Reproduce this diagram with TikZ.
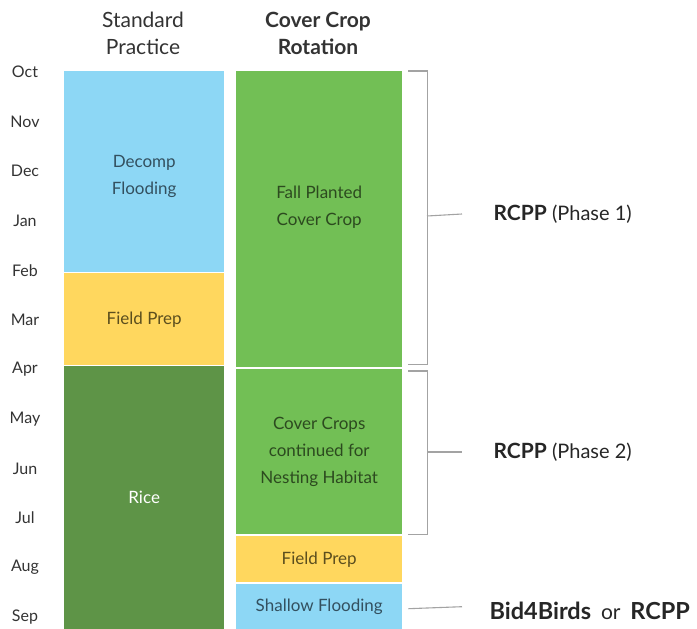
\documentclass[tikz,border=0pt]{standalone}
\usepackage{fontspec}
\setmainfont{Lato}
\usepackage{tikz}
\usetikzlibrary{positioning}
\definecolor{skyblue}{HTML}{8DD7F5}
\definecolor{prepyellow}{HTML}{FFD75E}
\definecolor{ricegreen}{HTML}{5E9447}
\definecolor{covergreen}{HTML}{72BF55}
\definecolor{bracketgray}{HTML}{A3A3A3}
\definecolor{bluetext}{HTML}{33505F}
\definecolor{yellowtext}{HTML}{5B4E1E}
\definecolor{greentext}{HTML}{2C4A1F}
\tikzset{C/.style={anchor=north west, inner sep=0pt, minimum width=#1, font=\fontsize{17}{27}\selectfont, align=center}}
\tikzset{T/.style={font=\fontsize{17}{27}\selectfont, align=center}}
\tikzset{M/.style={font=\fontsize{16}{19}\selectfont, text=black!80}}
\tikzset{H/.style={font=\fontsize{21}{27}\selectfont, text=black!80, align=center}}
\tikzset{K/.style={draw=bracketgray, line width=1.1pt}}
\tikzset{R/.style={anchor=west, font=\fontsize{21}{24}\selectfont, text=black!85}}

\begin{document}
\begin{tikzpicture}[x=1pt, y=-1pt]
        \useasboundingbox (0,0) rectangle (697,629);
        %% Headings
        \node[H] (std) at (143,33) {Standard\\Practice};
        \node[H, font=\fontsize{21}{27}\selectfont\bfseries] (ccr) at (318,33) {Cover Crop\\Rotation};
        %% Months
        \foreach \m [count=\i from 0] in {Oct,Nov,Dec,Jan,Feb,Mar,Apr,May,Jun,Jul,Aug,Sep}
          \node[M] (m\i) at (25,72+49.55*\i) {\m};
        %% Standard practice column
        \node[C=160pt, fill=skyblue, minimum height=201pt] (decomp) at (64,71) {};
        \node[T, text=bluetext] at ([yshift=-5]decomp.center) {Decomp\\Flooding};
        \node[C=160pt, fill=prepyellow, minimum height=92pt, text=yellowtext] (prep1) at (64,273) {Field Prep};
        \node[C=160pt, fill=ricegreen, minimum height=263pt, text=white] (rice) at (64,366) {Rice};
        %% Cover crop column
        \node[C=166pt, fill=covergreen, minimum height=296pt] (fall) at (236,71) {};
        \node[T, text=greentext] at ([yshift=12]fall.center) {Fall Planted\\Cover Crop};
        \node[C=166pt, fill=covergreen, minimum height=165pt, text=greentext] (nest) at (236,369) {Cover Crops\\continued for\\Nesting Habitat};
        \node[C=166pt, fill=prepyellow, minimum height=46pt, text=yellowtext] (prep2) at (236,536) {Field Prep};
        \node[C=166pt, fill=skyblue, minimum height=45pt, text=bluetext] (shallow) at (236,584) {Shallow Flooding};
        %% Programs
        \node[R] (rcpp1) at (490,214) {\textbf{RCPP} {\fontsize{20}{24}\selectfont(Phase 1)}};
        \node[R] (rcpp2) at (490,452) {\textbf{RCPP} {\fontsize{20}{24}\selectfont(Phase 2)}};
        \node[R, font=\fontsize{23.5}{26}\selectfont] (bid) at (486,611) {\textbf{Bid4Birds}\, {\fontsize{21}{24}\selectfont or}\, \textbf{RCPP}};
        %% Brackets
        \coordinate (b1a) at ([xshift=6]fall.north east);
        \coordinate (b1b) at ([xshift=6,yshift=3]fall.south east);
        \coordinate (b2a) at ([xshift=6,yshift=-2]nest.north east);
        \coordinate (b2b) at ([xshift=6]nest.south east);
        \draw[K] (b1a) -- ++(19,0) |- (b1b);
        \draw[K] (b2a) -- ++(19,0) |- (b2b);
        \draw[K] (427,216) -- ([xshift=-28]rcpp1.west);
        \draw[K] (427,452) -- ([xshift=-28]rcpp2.west);
        \draw[K] ([xshift=6,yshift=-2]shallow.east) -- ([xshift=-24]bid.west |- shallow.east);
\end{tikzpicture}
\end{document}
